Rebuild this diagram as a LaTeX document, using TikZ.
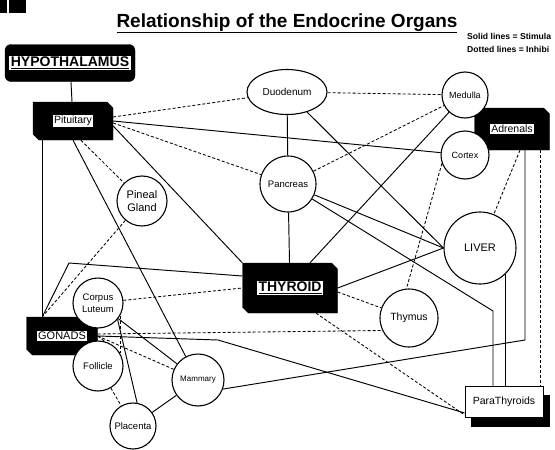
\documentclass[tikz,border=0pt]{standalone}
\usepackage{fontspec}
\setmainfont{Liberation Sans}
\usetikzlibrary{shapes.misc,shapes.geometric,shadows,backgrounds}

\newcommand{\whitetag}[1]{{\fboxsep=1.5pt\colorbox{white}{#1}}}

\begin{document}
\begin{tikzpicture}[x=1pt, y=-1pt,
    organ/.style={circle, draw, line width=1.1pt, fill=white, inner sep=0pt, align=center,
      font=\fontsize{9.5}{12}\selectfont},
    gland/.style={chamfered rectangle, chamfered rectangle corners={north east,south west},
      chamfered rectangle xsep=3pt, chamfered rectangle ysep=3pt, draw, fill=black,
      inner sep=0pt, font=\fontsize{10.5}{12}\selectfont},
    stim/.style={line width=0.95pt},
    inhib/.style={line width=0.85pt, dash pattern=on 3pt off 2pt}]
    \useasboundingbox (0,0) rectangle (555,450);
    \fill (0,0) rectangle (7,13);
    \fill (9,0) rectangle (26,13);

    \node (title) [anchor=base, font=\bfseries\fontsize{19}{22}\selectfont] at (287,27)
        {\underline{Relationship of the Endocrine Organs}};
    \node (legstim) [anchor=base west, inner sep=0pt, font=\bfseries\fontsize{8.6}{10}\selectfont] at (467,39)
        {Solid lines = Stimula};
    \node (leginhib) [anchor=base west, inner sep=0pt, font=\bfseries\fontsize{8.6}{10}\selectfont] at (467,52)
        {Dotted lines = Inhibi};

    \node (hyp) [draw, fill=black, rounded corners=6pt, minimum width=130pt, minimum height=37pt,
        inner sep=0pt, font=\bfseries\fontsize{14}{16}\selectfont] at (70,63)
        {\whitetag{\underline{HYPOTHALAMUS}}};
    \node (pit) [gland, minimum width=80pt, minimum height=38pt] at (73,121) {\whitetag{Pituitary}};
    \node (adr) [gland, minimum width=75pt, minimum height=42pt] at (512,129) {\whitetag{Adrenals}};
    \node (thyr) [gland, minimum width=95pt, minimum height=50pt,
        font=\bfseries\fontsize{14}{16}\selectfont] at (290,288) {\whitetag{\underline{THYROID}}};
    \node (gon) [gland, minimum width=71pt, minimum height=38pt,
        font=\fontsize{11}{13}\selectfont] at (62,336) {\whitetag{GONADS}};
    \node (para) [draw, fill=white, line width=0.9pt, minimum width=78pt, minimum height=31pt,
        copy shadow={shadow xshift=6pt, shadow yshift=-9pt, fill=black, draw=black},
        font=\fontsize{10.5}{12}\selectfont] at (504,402) {ParaThyroids};

    \node (duo) [organ, ellipse, minimum width=80pt, minimum height=45pt,
        font=\fontsize{10}{12}\selectfont] at (287,92) {Duodenum};
    \node (med) [organ, minimum size=46pt, font=\fontsize{9}{11}\selectfont] at (465,95) {Medulla};
    \node (cor) [organ, minimum size=48pt, font=\fontsize{9}{11}\selectfont] at (465,155) {Cortex};
    \node (pan) [organ, minimum size=56pt] at (288,184) {Pancreas};
    \node (pin) [organ, minimum size=50pt, font=\fontsize{11}{13.5}\selectfont] at (142,201) {Pineal\\Gland};
    \node (liv) [organ, minimum size=72pt, font=\fontsize{11}{13}\selectfont] at (480,248) {LIVER};
    \node (thym) [organ, minimum size=58pt, font=\fontsize{10.5}{12}\selectfont] at (409,318) {Thymus};
    \node (cl) [organ, minimum size=50pt] at (98,303) {Corpus\\Luteum};
    \node (fol) [organ, minimum size=50pt] at (98,366) {Follicle};
    \node (mam) [organ, minimum size=52pt, font=\fontsize{8}{10}\selectfont] at (198,380) {Mammary};
    \node (pla) [organ, minimum size=46pt] at (133,426) {Placenta};

    \coordinate (gj) at ([xshift=16pt]gon.north west);
    \coordinate (gbend) at (69,263);
    \coordinate (pbend) at (493,311);
    \coordinate (obend) at (218,340);
    \coordinate (mbend) at (525,340);
    \coordinate (aj) at ([xshift=-9pt]adr.south east);

    \begin{scope}[on background layer]
        % solid lines
        \draw[stim] (hyp) -- (pit);
        \draw[stim] (pit.south -| gj) -- (gj);
        \draw[stim] (gj) -- (gbend) -- ([yshift=12pt]thyr.west);
        \draw[stim] (pit.south) -- (mam);
        \draw[stim] ([yshift=-5pt]pit.east) -- (thyr.north west);
        \draw[stim] (pit.east) -- (cor);
        \draw[stim] (duo) -- (pan);
        \draw[stim] (pan) -- (thyr);
        \draw[stim] (duo) -- (liv.west);
        \draw[stim] (pan) -- (liv.west);
        \draw[stim] (pan) -- (pbend) -- (pbend |- para.north);
        \draw[stim] ([xshift=20pt]thyr.north) -- (med);
        \draw[stim] (thyr.east) -- (liv.west);
        \draw[stim] (gon.east) -- (obend) -- ([yshift=5pt]para.south west);
        \draw[stim] (mam.-20) -- (mbend) -- (mbend |- adr.south);
        \draw[stim] (liv.-45) -- (liv.-45 |- para.north);
        \draw[stim] (cl.-40) -- (pla.80);
        \draw[stim] (cl) -- (mam);
        \draw[stim] (pla) -- (mam);
        % dotted lines
        \draw[inhib] ([yshift=4pt]pit.east) -- (duo);
        \draw[inhib] (duo) -- (med);
        \draw[inhib] ([yshift=-2pt]pit.east) -- (pan);
        \draw[inhib] ([xshift=8pt]pit.south) -- (pin);
        \draw[inhib] (pan) -- (med);
        \draw[inhib] (pin) -- (gj);
        \draw[inhib] (cor.200) -- (thym.95);
        \draw[inhib] ([xshift=8pt]adr.south) -- (liv);
        \draw[inhib] (aj) -- (aj |- para.north);
        \draw[inhib] ([yshift=-4pt]thyr.east) -- (thym);
        \draw[inhib] ([xshift=26pt]thyr.south) -- ([yshift=3pt]para.south west);
        \draw[inhib] (cl) -- (thyr.west);
        \draw[inhib] ([yshift=2pt]gon.east) -- (thym.205);
        \draw[inhib] (gon.east) -- (mam);
        \draw[inhib] (cl.-30) -- (fol.30);
        \draw[inhib] (gon.east) -- (fol.30);
        \draw[inhib] (fol) -- (pla);
    \end{scope}
\end{tikzpicture}
\end{document}
